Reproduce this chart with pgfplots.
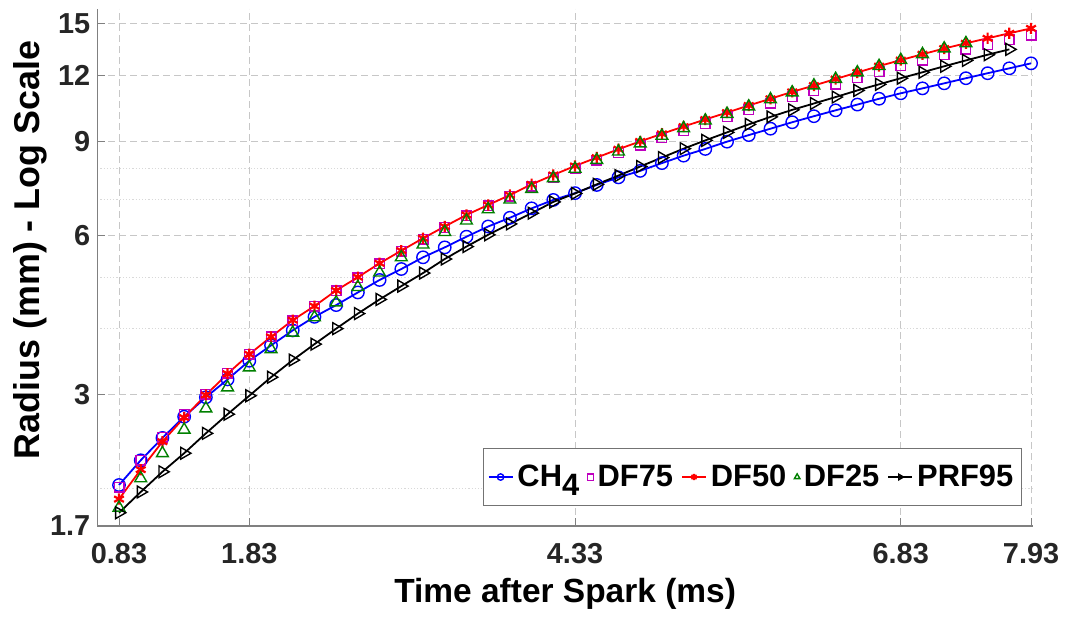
\documentclass[border=0pt]{standalone}
\usepackage{fontspec}
\setmainfont{Liberation Sans}
\usepackage{pgfplots}
\usepackage{pgfplotstable}
\pgfplotsset{compat=1.18}
\definecolor{mblue}{rgb}{0,0,1}
\definecolor{mmag}{rgb}{0.75,0,0.75}
\definecolor{mred}{rgb}{1,0,0}
\definecolor{mgreen}{rgb}{0,0.5,0}
\definecolor{tickgray}{rgb}{0.15,0.15,0.15}

\pgfplotstableread{
t      ch4   df75  df50  df25  prf95
0.83   2.03  2.01  1.91  1.84  1.80
0.9967 2.26  2.26  2.17  2.09  1.97
1.1633 2.49  2.50  2.45  2.33  2.15
1.33   2.73  2.76  2.72  2.58  2.33
1.4967 2.97  3.01  3.00  2.83  2.54
1.6633 3.21  3.30  3.29  3.10  2.76
1.83   3.48  3.58  3.58  3.38  2.99
1.9967 3.72  3.86  3.86  3.66  3.24
2.1633 3.97  4.14  4.15  3.93  3.49
2.33   4.21  4.41  4.41  4.20  3.74
2.4967 4.43  4.71  4.72  4.48  4.00
2.6633 4.68  4.99  5.00  4.79  4.27
2.83   4.94  5.30  5.31  5.10  4.54
2.9967 5.18  5.60  5.61  5.45  4.81
3.1633 5.45  5.90  5.92  5.76  5.09
3.33   5.69  6.20  6.23  6.08  5.41
3.4967 5.96  6.52  6.55  6.39  5.71
3.6633 6.23  6.81  6.84  6.71  6.01
3.83   6.47  7.10  7.14  7.00  6.30
3.9967 6.74  7.42  7.48  7.33  6.60
4.1633 6.99  7.71  7.79  7.68  6.93
4.33   7.20  8.01  8.10  8.00  7.19
4.4967 7.46  8.30  8.40  8.31  7.48
4.6633 7.71  8.59  8.71  8.62  7.77
4.83   7.93  8.87  9.01  8.93  8.08
4.9967 8.20  9.15  9.31  9.23  8.40
5.1633 8.47  9.44  9.61  9.54  8.73
5.33   8.72  9.74  9.91  9.86  9.05
5.4967 9.00  10.03 10.21 10.15 9.37
5.6633 9.26  10.33 10.53 10.48 9.70
5.83   9.52  10.63 10.84 10.81 10.02
5.9967 9.79  10.94 11.17 11.14 10.33
6.1633 10.05 11.23 11.48 11.48 10.62
6.33   10.31 11.55 11.81 11.81 10.92
6.4967 10.57 11.87 12.15 12.15 11.24
6.6633 10.84 12.19 12.49 12.49 11.54
6.83   11.10 12.51 12.82 12.82 11.85
6.9967 11.34 12.82 13.15 13.15 12.16
7.1633 11.59 13.13 13.48 13.48 12.48
7.33   11.85 13.43 13.79 13.79 12.80
7.4967 12.11 13.72 14.09 nan   13.12
7.6633 12.37 14.00 14.40 nan   13.43
7.83   12.64 14.28 14.71 nan   nan
}\radii

\begin{document}
\begin{tikzpicture}
\begin{axis}[
  scale only axis,
  width=467.9bp, height=258.5bp,
  ymode=log,
  xmin=0.6633, xmax=7.845,
  ymin=1.7, ymax=16,
  xtick={0.83,1.83,4.33,6.83,7.83},
  xticklabels={0.83,1.83,4.33,6.83,7.93},
  ytick={1.7,3,6,9,12,15},
  yticklabels={1.7,3,6,9,12,15},
  minor ytick={2,4,5,7,8},
  /pgf/number format/assume math mode=true,
  axis x line*=bottom, axis y line*=left,
  axis line style={draw=black!50, line width=0.6bp, -},
  tick align=inside,
  major tick length=4bp, minor tick length=0pt,
  tick style={draw=black!50, line width=0.5bp},
  xmajorgrids, ymajorgrids, yminorgrids,
  major grid style={draw=black!22, line width=0.5bp, dash pattern=on 3.5bp off 2bp},
  minor grid style={draw=black!15, line width=0.5bp, dash pattern=on 0.6bp off 1bp},
  tick label style={font=\bfseries\fontsize{14.5}{16}\selectfont, text=tickgray},
  xticklabel style={anchor=base, yshift=-18.7bp},
  xlabel={Time after Spark (ms)},
  ylabel={Radius (mm) - Log Scale},
  xlabel style={font=\bfseries\fontsize{16.8}{19}\selectfont, text=black,
    at={(axis description cs:0.5,0)}, anchor=base, yshift=-38.3bp},
  ylabel style={font=\bfseries\fontsize{18}{20}\selectfont, text=black,
    at={(axis description cs:-0.0716,0.534)}, anchor=center},
  legend columns=5,
  legend style={at={(axis description cs:0.988,0.039)}, anchor=south east,
    draw=black!55, line width=0.5bp, fill=white,
    font=\bfseries\fontsize{15.5}{17}\selectfont,
    inner xsep=2bp, inner ysep=6bp,
    /tikz/every even column/.append style={column sep=2bp}},
  legend image post style={mark size=1.6bp},
  legend image code/.code={\draw[mark repeat=2,mark phase=2,#1] plot coordinates {(0bp,0bp) (6bp,0bp) (12bp,0bp)};},
  clip=false,
]
\addplot[color=mblue, line width=0.9bp, mark=o, mark size=3.1bp, mark options={line width=0.7bp}] table[x=t, y=ch4] {\radii};
\addlegendentry{CH\raisebox{-0.55ex}{4}}
\addplot[color=mmag, only marks, mark=square, mark size=2.4bp, mark options={line width=0.7bp}] table[x=t, y=df75] {\radii};
\addlegendentry{DF75}
\addplot[color=mred, line width=0.9bp, mark=asterisk, mark size=2.8bp, mark options={line width=1.1bp}] table[x=t, y=df50] {\radii};
\addlegendentry{DF50}
\addplot[color=mgreen, only marks, mark=triangle, mark size=3.4bp, mark options={line width=0.7bp}] table[x=t, y=df25] {\radii};
\addlegendentry{DF25}
\addplot[color=black, line width=0.9bp, mark=triangle, mark size=3.4bp, mark options={line width=0.7bp, rotate=-90}] table[x=t, y=prf95] {\radii};
\addlegendentry{PRF95}
\end{axis}
\pgfresetboundingbox
\path ([shift={(-48.65bp,-45.5bp)}]current axis.south west) rectangle ([shift={(17bp,4.5bp)}]current axis.north east);
\end{tikzpicture}
\end{document}
